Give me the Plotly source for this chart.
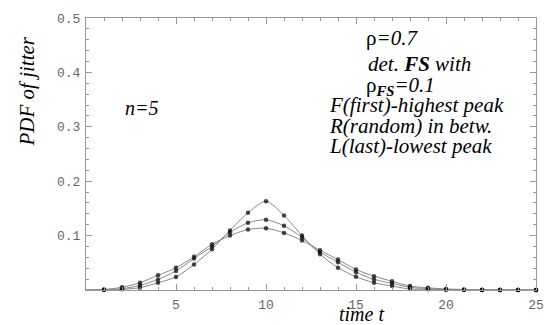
import plotly.graph_objects as go

t = list(range(0, 26))
pdf_first = [0, 0.0002, 0.0013, 0.0043, 0.0134, 0.024, 0.047, 0.075, 0.1095, 0.142, 0.163,
             0.137, 0.100, 0.0657, 0.041, 0.0243, 0.0134, 0.0073, 0.0018, 0.0013, 0.0004,
             0.0002, 0.0001, 0, 0, 0]
pdf_random = [0, 0.0006, 0.0024, 0.0085, 0.0195, 0.035, 0.058, 0.080, 0.106, 0.1235, 0.129,
              0.118, 0.0967, 0.070, 0.051, 0.0328, 0.0195, 0.0122, 0.005, 0.0024, 0.001,
              0.0005, 0.0002, 0.0001, 0, 0]
pdf_last = [0, 0.001, 0.005, 0.0134, 0.027, 0.041, 0.061, 0.084, 0.100, 0.111, 0.1136,
            0.105, 0.091, 0.073, 0.056, 0.0377, 0.0255, 0.016, 0.0073, 0.004, 0.002,
            0.001, 0.0005, 0.0002, 0.0001, 0]

x_ticks = [5, 10, 15, 20, 25]
y_ticks = [0.1, 0.2, 0.3, 0.4, 0.5]

fig = go.Figure()
sizes = [0] + [4.5] * (len(t) - 1)
for ys in (pdf_first, pdf_random, pdf_last):
    fig.add_trace(go.Scatter(
        x=t, y=ys, mode="lines+markers",
        line=dict(color="#8a8a8a", width=1, shape="spline", smoothing=0.8),
        marker=dict(color="black", size=sizes, line=dict(width=0)),
        cliponaxis=False, showlegend=False, hoverinfo="skip"))

tickfont = dict(family="Liberation Mono", size=13, color="#666")
fig.update_xaxes(
    range=[0, 25], tickvals=x_ticks, ticktext=[str(v) for v in x_ticks],
    ticks="inside", ticklen=6, tickcolor="#999", tickwidth=1,
    minor=dict(dtick=1, ticks="inside", ticklen=3, tickcolor="#999"),
    showline=True, linecolor="#999", linewidth=1, mirror="ticks",
    showgrid=False, zeroline=False, tickfont=tickfont, ticklabelstandoff=2)
fig.update_yaxes(
    range=[0, 0.5], tickvals=y_ticks, ticktext=[f"{v:.1f}" for v in y_ticks],
    ticks="inside", ticklen=6, tickcolor="#999", tickwidth=1,
    minor=dict(dtick=0.02, ticks="inside", ticklen=3, tickcolor="#999"),
    showline=True, linecolor="#999", linewidth=1, mirror="ticks",
    showgrid=False, zeroline=False, tickfont=tickfont, ticklabelstandoff=2)

serif = "Liberation Serif"
ann = []
def txt(x, y, s, size=20, xanchor="left", angle=0, xref="paper", yref="paper"):
    ann.append(dict(x=x, y=y, xref=xref, yref=yref, text=s, showarrow=False,
                    xanchor=xanchor, yanchor="middle", textangle=angle,
                    font=dict(family=serif, size=size, color="black")))

W, H = 556, 325
L, R, T, B = 86, 20, 16, 35
pw, ph = W - L - R, H - T - B
def px(xp): return (xp - L) / pw
def py(yp): return (H - B - yp) / ph

txt(px(27), py(90), "<i>PDF of jitter</i>", size=21, xanchor="center", angle=-90)
txt(px(361), py(314), "<i>time t</i>", size=20, xanchor="center")
txt(px(123), py(107), "<i>n=5</i>", size=20)
txt(px(364), py(36), "ρ<i>=0.7</i>", size=21)
txt(px(366), py(62), "<i>det. <b>FS</b> with</i>", size=21)
txt(px(364), py(85), "ρ<sub><i><b>FS</b></i></sub><i>=0.1</i>", size=21)
txt(px(327), py(104), "<i>F(first)-highest peak</i>", size=21)
txt(px(327), py(124.5), "<i>R(random) in betw.</i>", size=21)
txt(px(327), py(145), "<i>L(last)-lowest peak</i>", size=21)

fig.update_layout(
    width=W, height=H, margin=dict(l=L, r=R, t=T, b=B),
    paper_bgcolor="white", plot_bgcolor="white", annotations=ann)

fig.write_html("out.html")
